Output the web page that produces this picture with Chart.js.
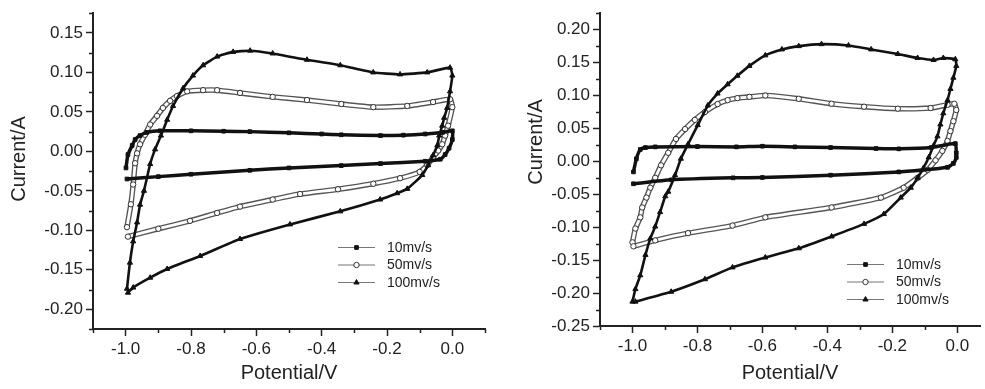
<html>
<head>
    <meta http-equiv="Content-Type" content="text/html; charset=utf-8"/>
    <title>CV curves</title>
    <style>
        body { margin: 0; background: #fff; }
        canvas { position: absolute; top: 0; }
        #left { left: 0; }
        #right { left: 490px; }
    </style>
</head>
<body>
<canvas id="left" width="490" height="389"></canvas>
<canvas id="right" width="495" height="389"></canvas>

<script src="https://cdn.jsdelivr.net/npm/chart.js@4/dist/chart.umd.min.js"></script>
<script>
    // scan rates
    var seriesLabels = ['10mv/s', '50mv/s', '100mv/s'];

    // axis ticks
    var xTicks = [-1.0, -0.8, -0.6, -0.4, -0.2, 0.0];
    var xMinor = [-1.1, -0.9, -0.7, -0.5, -0.3, -0.1, 0.1];
    var yTicksA = [-0.20, -0.15, -0.10, -0.05, 0.00, 0.05, 0.10, 0.15];
    var yMinorA = [-0.225, -0.175, -0.125, -0.075, -0.025, 0.025, 0.075, 0.125, 0.175];
    var yTicksB = [-0.25, -0.20, -0.15, -0.10, -0.05, 0.00, 0.05, 0.10, 0.15, 0.20];
    var yMinorB = [-0.225, -0.175, -0.125, -0.075, -0.025, 0.025, 0.075, 0.125, 0.175, 0.225];

    // left panel: potential (V) and current (A), anodic sweep then cathodic sweep
    var aV10 = [-0.999, -0.993, -0.980, -0.971, -0.956, -0.935, -0.895, -0.80, -0.70, -0.62, -0.50, -0.40, -0.34, -0.22, -0.15, -0.083, -0.03, 0.0,
        0.0, -0.010, -0.022, -0.037, -0.083, -0.22, -0.34, -0.50, -0.62, -0.80, -0.90, -0.996];
    var aI10 = [-0.021, -0.004, 0.0075, 0.015, 0.020, 0.024, 0.026, 0.026, 0.0255, 0.025, 0.0235, 0.022, 0.021, 0.020, 0.0205, 0.022, 0.024, 0.026,
        0.015, 0.004, -0.004, -0.010, -0.0125, -0.0155, -0.018, -0.021, -0.024, -0.029, -0.032, -0.035];

    var aV50 = [-0.996, -0.984, -0.977, -0.971, -0.965, -0.956, -0.941, -0.925, -0.904, -0.886, -0.864, -0.843, -0.812, -0.763, -0.72, -0.65, -0.55, -0.445, -0.34, -0.242, -0.138, -0.059, -0.007,
        0.0, -0.013, -0.022, -0.031, -0.043, -0.059, -0.077, -0.10, -0.16, -0.242, -0.35, -0.466, -0.55, -0.65, -0.72, -0.803, -0.90, -0.993];
    var aI50 = [-0.096, -0.067, -0.042, -0.015, -0.0025, 0.009, 0.021, 0.034, 0.045, 0.055, 0.064, 0.070, 0.076, 0.0775, 0.0775, 0.074, 0.069, 0.065, 0.060, 0.056, 0.0575, 0.0625, 0.066,
        0.056, 0.0325, 0.020, 0.009, 0.001, -0.0075, -0.0175, -0.026, -0.034, -0.041, -0.048, -0.054, -0.061, -0.070, -0.078, -0.088, -0.098, -0.108];

    var aV100 = [-0.996, -0.987, -0.977, -0.965, -0.956, -0.944, -0.925, -0.910, -0.892, -0.873, -0.855, -0.824, -0.794, -0.763, -0.720, -0.671, -0.619, -0.55, -0.445, -0.343, -0.242, -0.160, -0.077, -0.007,
        0.0, -0.007, -0.016, -0.025, -0.031, -0.040, -0.046, -0.059, -0.074, -0.092, -0.138, -0.169, -0.221, -0.343, -0.497, -0.65, -0.772, -0.873, -0.925, -0.977, -0.993];
    var aI100 = [-0.174, -0.141, -0.114, -0.090, -0.0675, -0.050, -0.016, 0.0025, 0.020, 0.040, 0.0575, 0.080, 0.096, 0.109, 0.120, 0.126, 0.1275, 0.124, 0.116, 0.109, 0.100, 0.0975, 0.100, 0.106,
        0.096, 0.076, 0.055, 0.0425, 0.0325, 0.020, 0.0075, -0.005, -0.0175, -0.030, -0.0475, -0.053, -0.061, -0.076, -0.0925, -0.111, -0.1325, -0.149, -0.160, -0.1725, -0.179];

    // right panel
    var bV10 = [-0.997, -0.988, -0.976, -0.960, -0.930, -0.80, -0.68, -0.60, -0.50, -0.39, -0.25, -0.18, -0.08, -0.006,
        -0.003, -0.003, -0.012, -0.030, -0.18, -0.39, -0.60, -0.69, -0.88, -0.997];
    var bI10 = [-0.016, 0.004, 0.018, 0.021, 0.022, 0.0225, 0.022, 0.023, 0.022, 0.021, 0.0195, 0.019, 0.021, 0.027,
        0.013, 0.006, -0.003, -0.009, -0.016, -0.021, -0.0245, -0.025, -0.028, -0.034];

    var bV50 = [-1.0, -0.991, -0.976, -0.970, -0.957, -0.945, -0.930, -0.912, -0.890, -0.866, -0.838, -0.808, -0.777, -0.738, -0.707, -0.677, -0.640, -0.591, -0.488, -0.387, -0.287, -0.183, -0.082, -0.030, -0.009,
        -0.003, -0.012, -0.021, -0.030, -0.046, -0.067, -0.091, -0.122, -0.165, -0.235, -0.387, -0.591, -0.692, -0.829, -0.930, -0.997];
    var bI50 = [-0.123, -0.102, -0.085, -0.070, -0.055, -0.040, -0.025, -0.006, 0.013, 0.034, 0.049, 0.063, 0.075, 0.087, 0.093, 0.096, 0.098, 0.100, 0.095, 0.0875, 0.083, 0.080, 0.081, 0.086, 0.0875,
        0.078, 0.061, 0.046, 0.031, 0.016, 0.0015, -0.013, -0.025, -0.040, -0.055, -0.070, -0.085, -0.0975, -0.109, -0.120, -0.129];

    var bV100 = [-1.0, -0.991, -0.976, -0.960, -0.945, -0.930, -0.915, -0.899, -0.890, -0.869, -0.851, -0.829, -0.799, -0.768, -0.738, -0.707, -0.677, -0.640, -0.591, -0.540, -0.488, -0.418, -0.335, -0.265, -0.183, -0.122, -0.073, -0.043, -0.006,
        -0.003, -0.012, -0.021, -0.030, -0.043, -0.052, -0.061, -0.073, -0.088, -0.104, -0.122, -0.143, -0.174, -0.226, -0.287, -0.387, -0.488, -0.591, -0.692, -0.777, -0.881, -0.991];
    var bI100 = [-0.213, -0.194, -0.173, -0.142, -0.117, -0.099, -0.077, -0.053, -0.046, -0.021, 0.004, 0.026, 0.055, 0.085, 0.103, 0.117, 0.130, 0.145, 0.161, 0.170, 0.175, 0.178, 0.176, 0.170, 0.163, 0.157, 0.154, 0.157, 0.155,
        0.145, 0.127, 0.110, 0.093, 0.073, 0.056, 0.038, 0.024, 0.006, -0.010, -0.025, -0.040, -0.055, -0.080, -0.095, -0.114, -0.132, -0.146, -0.161, -0.179, -0.198, -0.213];

    var FONT = 'Liberation Sans, Arial, sans-serif';

    function toPoints(v, i) {
        return v.map(function (x, k) { return {x: x, y: i[k]}; });
    }

    // the 50mv/s trace is a chain of open circles: a grey band with a white core under the markers
    function makeDatasets(v10, i10, v50, i50, v100, i100) {
        return [
            {
                label: seriesLabels[0], data: toPoints(v10, i10), legend: true, order: 1,
                borderColor: '#111', borderWidth: 3.5,
                pointStyle: 'rect', pointRadius: 2.6,
                pointBackgroundColor: '#111', pointBorderColor: '#111', pointBorderWidth: 1
            },
            {
                label: seriesLabels[1], data: toPoints(v50, i50), legend: true, order: 10,
                showLine: false,
                pointStyle: 'circle', pointRadius: 2.7,
                pointBackgroundColor: '#fff', pointBorderColor: '#333', pointBorderWidth: 1
            },
            {
                label: 'band', data: toPoints(v50, i50), order: 12,
                borderColor: '#555', borderWidth: 5.5, pointRadius: 0
            },
            {
                label: 'core', data: toPoints(v50, i50), order: 11,
                borderColor: '#fff', borderWidth: 2.8, pointRadius: 0
            },
            {
                label: seriesLabels[2], data: toPoints(v100, i100), legend: true, order: 2,
                borderColor: '#111', borderWidth: 2.6,
                pointStyle: 'triangle', pointRadius: 3,
                pointBackgroundColor: '#111', pointBorderColor: '#111', pointBorderWidth: 1
            }
        ];
    }

    // legend, y title and minor ticks drawn on top
    var extras = {
        id: 'extras',
        afterDraw: function (chart, args, opts) {
            var ctx = chart.ctx;
            var area = chart.chartArea;
            var xs = chart.scales.x, ys = chart.scales.y;
            ctx.save();

            // minor ticks
            ctx.strokeStyle = '#222';
            ctx.lineWidth = 1.5;
            ctx.beginPath();
            xMinor.forEach(function (v) {
                if (v < xs.min || v > xs.max) return;
                var px = Math.round(xs.getPixelForValue(v)) + 0.5;
                ctx.moveTo(px, area.bottom);
                ctx.lineTo(px, area.bottom + 4);
            });
            opts.yMinor.forEach(function (v) {
                var py = Math.round(ys.getPixelForValue(v)) + 0.5;
                ctx.moveTo(area.left, py);
                ctx.lineTo(area.left - 4, py);
            });
            ctx.stroke();

            // y title
            ctx.fillStyle = '#222';
            ctx.font = '20px ' + FONT;
            ctx.textAlign = 'center';
            ctx.textBaseline = 'middle';
            ctx.translate(opts.titleX, opts.titleY);
            ctx.rotate(-Math.PI / 2);
            ctx.fillText('Current/A', 0, 0);
            ctx.setTransform(1, 0, 0, 1, 0, 0);

            // legend
            ctx.font = '14px ' + FONT;
            ctx.textAlign = 'left';
            chart.data.datasets.filter(function (ds) { return ds.legend; }).forEach(function (ds, i) {
                var y = opts.legendY + i * opts.legendGap;
                ctx.strokeStyle = '#777';
                ctx.lineWidth = 1;
                ctx.beginPath();
                ctx.moveTo(opts.legendX, y + 0.5);
                ctx.lineTo(opts.legendX + 37, y + 0.5);
                ctx.stroke();
                ctx.fillStyle = ds.pointBackgroundColor;
                ctx.strokeStyle = ds.pointBorderColor;
                Chart.helpers.drawPoint(ctx, {
                    pointStyle: ds.pointStyle, radius: ds.pointRadius, borderWidth: 1, rotation: 0
                }, opts.legendX + 18.5, y + 0.5);
                ctx.fillStyle = '#222';
                ctx.fillText(ds.label, opts.legendX + 49, y + 1);
            });
            ctx.restore();
        }
    };

    function makeChart(id, datasets, p) {
        var ctx = document.getElementById(id).getContext('2d');
        return new Chart(ctx, {
            type: 'scatter',
            data: {datasets: datasets},
            plugins: [extras],
            options: {
                responsive: false,
                animation: false,
                devicePixelRatio: 1,
                showLine: true,
                tension: 0.15,
                layout: {padding: {top: p.padTop, right: p.padRight, left: 0, bottom: 0}},
                plugins: {
                    legend: {display: false},
                    tooltip: {enabled: false},
                    extras: p.extras
                },
                scales: {
                    x: {
                        type: 'linear', min: -1.1, max: p.xMax,
                        afterBuildTicks: function (s) { s.ticks = xTicks.map(function (v) { return {value: v}; }); },
                        afterFit: function (s) { s.height = p.xHeight; },
                        grid: {drawOnChartArea: false, drawTicks: true, tickLength: 7, tickColor: '#222', tickWidth: 1.5},
                        border: {display: true, color: '#222', width: 2},
                        ticks: {
                            color: '#222', padding: 3, maxRotation: 0,
                            font: {family: FONT, size: 17},
                            callback: function (v) { return v.toFixed(1); }
                        },
                        title: {display: true, text: 'Potential/V', color: '#222', font: {family: FONT, size: 20}}
                    },
                    y: {
                        type: 'linear', min: p.yMin, max: p.yMax,
                        afterBuildTicks: function (s) { s.ticks = p.yTicks.map(function (v) { return {value: v}; }); },
                        afterFit: function (s) { s.width = p.yWidth; },
                        grid: {drawOnChartArea: false, drawTicks: true, tickLength: 7, tickColor: '#222', tickWidth: 1.5},
                        border: {display: true, color: '#222', width: 2},
                        ticks: {
                            color: '#222', padding: 3,
                            font: {family: FONT, size: 17},
                            callback: function (v) { return v.toFixed(2); }
                        }
                    }
                }
            }
        });
    }

    makeChart('left', makeDatasets(aV10, aI10, aV50, aI50, aV100, aI100), {
        padTop: 9, padRight: 3, xMax: 0.1, xHeight: 60, yWidth: 93,
        yMin: -0.225, yMax: 0.175, yTicks: yTicksA,
        extras: {yMinor: yMinorA, titleX: 19, titleY: 159, legendX: 338, legendY: 247, legendGap: 17.5}
    });

    makeChart('right', makeDatasets(bV10, bI10, bV50, bI50, bV100, bI100), {
        padTop: 5, padRight: 0, xMax: 0.07, xHeight: 63, yWidth: 110,
        yMin: -0.25, yMax: 0.225, yTicks: yTicksB,
        extras: {yMinor: yMinorB, titleX: 46, titleY: 142, legendX: 357, legendY: 264, legendGap: 17.5}
    });
</script>
</body>
</html>
